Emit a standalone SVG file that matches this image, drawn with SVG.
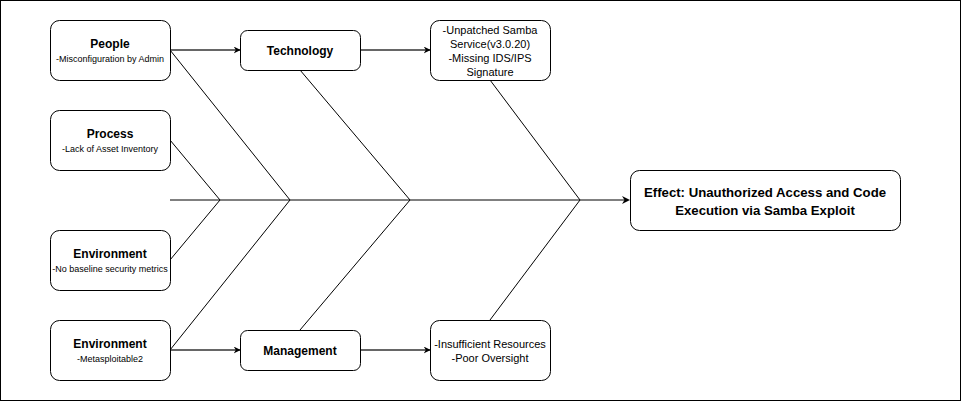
<svg xmlns="http://www.w3.org/2000/svg" width="961" height="401" viewBox="0 0 961 401">
<defs>
<style>
.box{fill:#fff;stroke:#000;stroke-width:1}
.t{font-family:"Liberation Sans",Arial,sans-serif;text-anchor:middle;fill:#000}
.h{font-size:12px;font-weight:bold}
.s{font-size:9px}
.m{font-size:11px}
.e{font-size:13.2px;font-weight:bold}
.ln{stroke:#000;stroke-width:1;fill:none}
.ar{stroke:#333;stroke-width:1.3;fill:none;marker-end:url(#ah)}
</style>
<marker id="ah" viewBox="0 0 10 10" refX="9" refY="5" markerWidth="7" markerHeight="7" orient="auto" markerUnits="userSpaceOnUse">
<path d="M0,0 L10,5 L0,10 L3,5 Z" fill="#000"/>
</marker>
</defs>
<rect x="0.5" y="0.5" width="960" height="400" fill="#fff" stroke="#000"/>
<g id="connectors">
<line class="ln" x1="170" y1="200" x2="625" y2="200"/>
<path d="M622,196 L630,200 L622,204 L624.5,200 Z" fill="#000"/>
<line class="ln" x1="170" y1="50" x2="290" y2="200"/>
<line class="ln" x1="170" y1="350" x2="290" y2="200"/>
<line class="ln" x1="170" y1="140" x2="220" y2="200"/>
<line class="ln" x1="170" y1="260" x2="220" y2="200"/>
<line class="ln" x1="300" y1="70" x2="410" y2="200"/>
<line class="ln" x1="300" y1="330" x2="410" y2="200"/>
<line class="ln" x1="490" y1="80" x2="580" y2="200"/>
<line class="ln" x1="490" y1="320" x2="580" y2="200"/>
<line class="ar" x1="170" y1="50" x2="240" y2="50"/>
<line class="ar" x1="360" y1="50" x2="430" y2="50"/>
<line class="ar" x1="170" y1="350" x2="240" y2="350"/>
<line class="ar" x1="360" y1="350" x2="430" y2="350"/>
</g>
<g id="people">
<rect class="box" x="50.5" y="20.5" width="120" height="60" rx="9"/>
<text class="t h" x="110" y="48">People</text>
<text class="t s" x="110" y="62">-Misconfiguration by Admin</text>
</g>
<g id="process">
<rect class="box" x="50.5" y="110.5" width="120" height="60" rx="9"/>
<text class="t h" x="110" y="138">Process</text>
<text class="t s" x="110" y="152">-Lack of Asset Inventory</text>
</g>
<g id="environment1">
<rect class="box" x="50.5" y="230.5" width="120" height="60" rx="9"/>
<text class="t h" x="110" y="258">Environment</text>
<text class="t s" x="110" y="272">-No baseline security metrics</text>
</g>
<g id="environment2">
<rect class="box" x="50.5" y="320.5" width="120" height="60" rx="9"/>
<text class="t h" x="110" y="348">Environment</text>
<text class="t s" x="110" y="362">-Metasploitable2</text>
</g>
<g id="technology">
<rect class="box" x="240.5" y="30.5" width="120" height="40" rx="7"/>
<text class="t h" x="300" y="55">Technology</text>
</g>
<g id="management">
<rect class="box" x="240.5" y="330.5" width="120" height="40" rx="7"/>
<text class="t h" x="300" y="355">Management</text>
</g>
<g id="samba">
<rect class="box" x="430.5" y="20.5" width="120" height="60" rx="9"/>
<text class="t m" x="490" y="34">-Unpatched Samba</text>
<text class="t m" x="490" y="48">Service(v3.0.20)</text>
<text class="t m" x="490" y="62">-Missing IDS/IPS</text>
<text class="t m" x="490" y="76">Signature</text>
</g>
<g id="resources">
<rect class="box" x="430.5" y="320.5" width="120" height="60" rx="9"/>
<text class="t m" x="490" y="348">-Insufficient Resources</text>
<text class="t m" x="490" y="362">-Poor Oversight</text>
</g>
<g id="effect">
<rect class="box" x="630.5" y="170.5" width="270" height="60" rx="9"/>
<text class="t e" x="765" y="197">Effect: Unauthorized Access and Code</text>
<text class="t e" x="765" y="215">Execution via Samba Exploit</text>
</g>
</svg>
